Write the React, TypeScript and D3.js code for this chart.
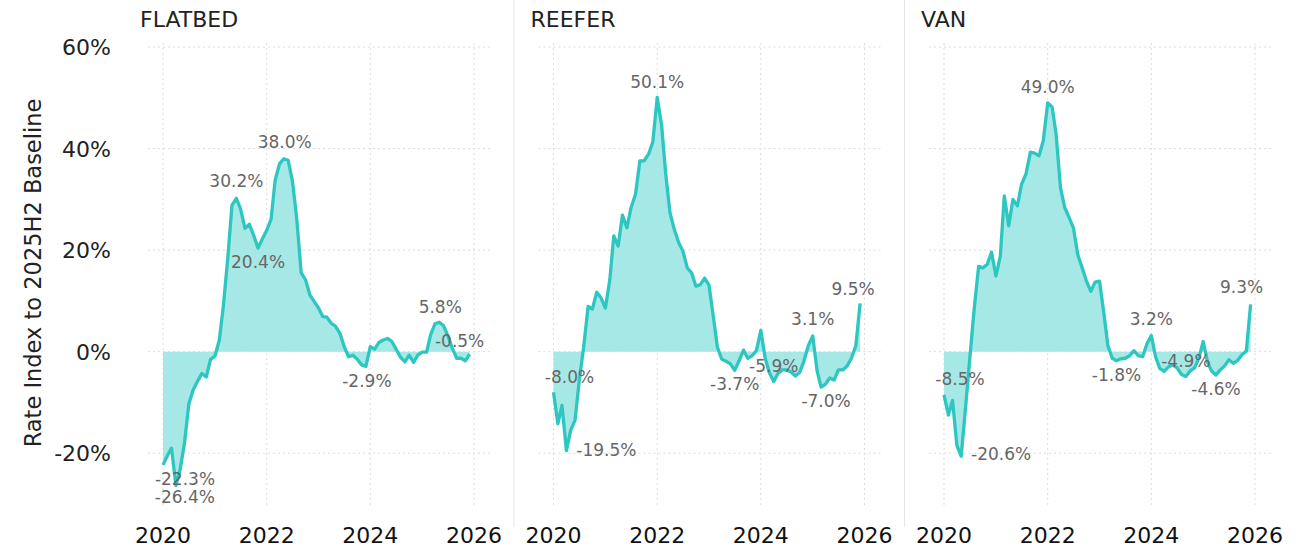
import { useEffect, useRef } from "react";
import * as d3 from "d3";

// monthly series, Jan 2020 .. Dec 2025, % vs 2025H2 baseline
const panelNames = ["FLATBED", "REEFER", "VAN"];
const yTicks = [-20, 0, 20, 40, 60];
const xTickYears = [2020, 2022, 2024, 2026];

const flatbed = [
  -22.3, -20.5, -19.0, -26.4, -23.2, -17.9, -10.3, -7.5, -5.8, -4.3,
  -5.0, -1.5, -0.9, 2.3, 8.9, 18.2, 28.8, 30.2, 28.1, 24.3,
  25.1, 22.9, 20.4, 22.2, 23.9, 26.1, 33.7, 37.0, 38.0, 37.7,
  33.7, 26.1, 15.5, 14.2, 11.2, 9.9, 8.6, 6.9, 6.8, 5.6,
  5.0, 3.6, 1.0, -1.0, -0.7, -1.5, -2.6, -2.9, 1.0, 0.5,
  1.8, 2.3, 2.6, 2.0, 0.5, -1.1, -2.0, -0.7, -2.1, -0.7,
  -0.1, -0.1, 3.3, 5.5, 5.8, 5.1, 3.1, 0.7, -1.3, -1.3,
  -1.8, -0.5,
];
const reefer = [
  -8.0, -14.2, -10.6, -19.5, -15.5, -13.5, -5.6, 1.0, 8.9, 8.4,
  11.7, 10.6, 8.6, 14.2, 22.8, 20.8, 26.9, 24.4, 28.4, 31.0,
  37.6, 37.6, 38.9, 41.3, 50.1, 44.6, 35.3, 27.4, 24.1, 21.5,
  19.8, 16.5, 15.5, 12.9, 13.2, 14.5, 13.1, 6.8, 0.9, -1.5,
  -1.9, -2.4, -3.7, -1.8, 0.3, -1.3, -0.8, 0.2, 4.2, -1.3,
  -4.1, -5.9, -4.3, -3.6, -3.6, -4.0, -4.8, -4.1, -1.8, 1.2,
  3.1, -3.8, -7.0, -6.4, -5.2, -5.6, -3.6, -3.6, -2.8, -1.3,
  1.2, 9.5,
];
const van = [
  -8.5, -12.5, -9.6, -18.5, -20.6, -11.0, -1.3, 8.5, 16.8, 16.5,
  17.2, 19.6, 14.9, 18.8, 30.7, 24.8, 30.0, 28.7, 33.0, 35.0,
  39.3, 39.1, 38.6, 41.6, 49.0, 48.2, 42.9, 32.3, 28.4, 26.4,
  24.4, 19.1, 16.5, 13.9, 11.9, 13.7, 13.9, 7.5, 1.2, -1.3,
  -1.8, -1.4, -1.3, -0.8, 0.2, -0.8, -1.0, 1.5, 3.2, -1.1,
  -3.3, -3.9, -3.0, -2.6, -3.2, -4.5, -4.9, -3.8, -3.2, -1.3,
  2.0, -2.1, -3.8, -4.6, -3.6, -2.8, -1.6, -2.3, -1.7, -0.6,
  0.1, 9.3,
];

// which points carry a value label
const flatbedLabels = [0, 3, 17, 22, 28, 47, 64, 71];
const reeferLabels = [0, 3, 24, 42, 51, 60, 62, 71];
const vanLabels = [0, 4, 24, 40, 48, 56, 63, 71];

// label nudges (dx, dy from the point), same order as above
const labelNudges = [
  [[22, 20], [9, 17], [0, -11], [0, 20], [1, -11], [1, 21], [1, -9], [-10, -7]],
  [[16, -9], [40, 5], [0, -9], [0, 20], [0, -10], [0, -11], [5, 20], [-7, -8]],
  [[16, -10], [40, 4], [0, -10], [0, 20], [0, -10], [0, -10], [0, 20], [-9, -11]],
];

const W = 1313;
const H = 547;
const FONT = "DejaVu Sans, Verdana, sans-serif";
const LINE = "#2ec6c1";
const FILL = "#a6e8e5";

const pct = (v: number) => `${v.toFixed(1)}%`;

export default function App() {
  const ref = useRef<SVGSVGElement>(null);

  useEffect(() => {
    const svg = d3.select(ref.current);
    svg.selectAll("*").remove();

    const months = d3.timeMonth.range(new Date(2020, 0, 1), new Date(2026, 0, 1));
    const series = [flatbed, reefer, van];
    const labelSets = [flatbedLabels, reeferLabels, vanLabels];

    const y = d3.scaleLinear().domain([-30.6, 60.8]).range([507, 43]);

    const panelW = 342;
    const step = 390.5;
    const left0 = 148;

    // y axis ticks + title
    svg
      .append("g")
      .selectAll("text")
      .data(yTicks)
      .join("text")
      .attr("x", 111)
      .attr("y", (d) => y(d) + 8)
      .attr("text-anchor", "end")
      .attr("font-size", 22)
      .attr("fill", "#222")
      .text((d) => `${d}%`);

    svg
      .append("text")
      .attr("transform", `translate(33,${273}) rotate(-90)`)
      .attr("text-anchor", "middle")
      .attr("dominant-baseline", "central")
      .attr("font-size", 22.5)
      .attr("fill", "#222")
      .text("Rate Index to 2025H2 Baseline");

    panelNames.forEach((name, p) => {
      const x0 = left0 + p * step;
      const x = d3
        .scaleTime()
        .domain([new Date(2020, 0, 1), new Date(2026, 0, 1)])
        .range([x0 + 15, x0 + 326]);
      const g = svg.append("g");

      // separator between panels
      if (p < panelNames.length - 1) {
        g.append("line")
          .attr("x1", x0 + panelW + 24)
          .attr("x2", x0 + panelW + 24)
          .attr("y1", 0)
          .attr("y2", 527)
          .attr("stroke", "#e6e6e6");
      }

      // grid
      g.selectAll(".hg")
        .data(yTicks)
        .join("line")
        .attr("x1", x0)
        .attr("x2", x0 + panelW)
        .attr("y1", (d) => y(d))
        .attr("y2", (d) => y(d))
        .attr("stroke", "#dcdcdc")
        .attr("stroke-dasharray", "2,3");
      g.selectAll(".vg")
        .data(xTickYears)
        .join("line")
        .attr("x1", (d) => x(new Date(d, 0, 1)))
        .attr("x2", (d) => x(new Date(d, 0, 1)))
        .attr("y1", 43)
        .attr("y2", 507)
        .attr("stroke", "#dcdcdc")
        .attr("stroke-dasharray", "2,3");

      // title
      g.append("text")
        .attr("x", x0 - 8)
        .attr("y", 27)
        .attr("font-size", 22)
        .attr("fill", "#222")
        .text(name);

      // x ticks
      g.selectAll(".xt")
        .data(xTickYears)
        .join("text")
        .attr("x", (d) => x(new Date(d, 0, 1)))
        .attr("y", 543)
        .attr("text-anchor", "middle")
        .attr("font-size", 22)
        .attr("fill", "#111")
        .text((d) => d);

      const values = series[p];
      const pts = values.map((v, i) => ({ date: months[i], v }));

      const area = d3
        .area<{ date: Date; v: number }>()
        .x((d) => x(d.date))
        .y0(y(0))
        .y1((d) => y(d.v));
      const line = d3
        .line<{ date: Date; v: number }>()
        .x((d) => x(d.date))
        .y((d) => y(d.v));

      g.append("path").datum(pts).attr("fill", FILL).attr("d", area);
      g.append("path")
        .datum(pts)
        .attr("fill", "none")
        .attr("stroke", LINE)
        .attr("stroke-width", 3.3)
        .attr("stroke-linejoin", "round")
        .attr("d", line);

      // value labels
      labelSets[p].forEach((idx, k) => {
        const [dx, dy] = labelNudges[p][k];
        g.append("text")
          .attr("x", x(months[idx]) + dx)
          .attr("y", y(values[idx]) + dy)
          .attr("text-anchor", "middle")
          .attr("font-size", 17)
          .attr("fill", "#666")
          .text(pct(values[idx]));
      });
    });
  }, []);

  return (
    <svg
      ref={ref}
      width={W}
      height={H}
      viewBox={`0 0 ${W} ${H}`}
      style={{ position: "absolute", left: 0, top: 0, background: "#fff", fontFamily: FONT }}
    />
  );
}
